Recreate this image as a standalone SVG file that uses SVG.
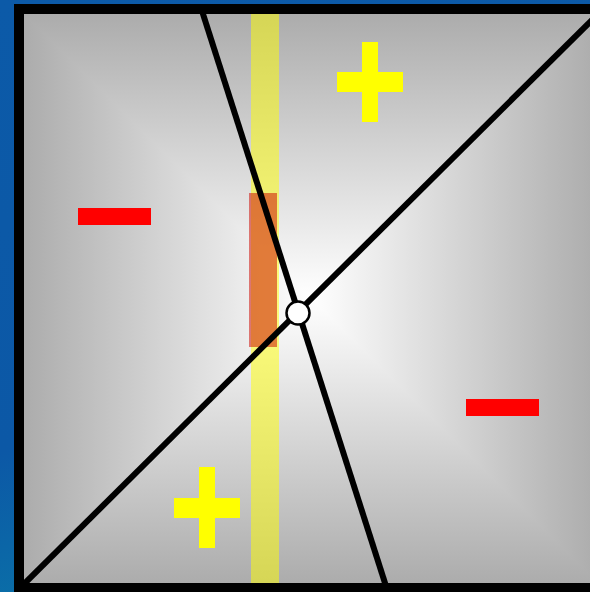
<svg xmlns="http://www.w3.org/2000/svg" width="590" height="592" viewBox="0 0 590 592">
  <defs>
    <linearGradient id="bg" x1="0" y1="0" x2="0.3" y2="1">
      <stop offset="0" stop-color="#0c5aa8"/>
      <stop offset="0.7" stop-color="#0c58a6"/>
      <stop offset="1" stop-color="#0a74a8"/>
    </linearGradient>
    <linearGradient id="gl" gradientUnits="userSpaceOnUse" x1="311" y1="0" x2="24" y2="0">
      <stop offset="0" stop-color="#ffffff"/>
      <stop offset="1" stop-color="#acacac"/>
    </linearGradient>
    <linearGradient id="gr" gradientUnits="userSpaceOnUse" x1="311" y1="0" x2="598" y2="0">
      <stop offset="0" stop-color="#ffffff"/>
      <stop offset="1" stop-color="#acacac"/>
    </linearGradient>
    <linearGradient id="gt" gradientUnits="userSpaceOnUse" x1="0" y1="298" x2="0" y2="14">
      <stop offset="0" stop-color="#ffffff"/>
      <stop offset="1" stop-color="#acacac"/>
    </linearGradient>
    <linearGradient id="gb" gradientUnits="userSpaceOnUse" x1="0" y1="298" x2="0" y2="583">
      <stop offset="0" stop-color="#ffffff"/>
      <stop offset="1" stop-color="#acacac"/>
    </linearGradient>
    <clipPath id="inner"><rect x="24" y="14" width="574" height="569"/></clipPath>
  </defs>
  <style>
    .line { stroke: #000; stroke-width: 6; fill: none; }
    .plus { fill: #ffff00; }
    .minus { fill: #ff0000; }
  </style>

  <rect x="0" y="0" width="590" height="592" fill="url(#bg)"/>

  <g id="field">
    <rect x="14" y="4" width="311" height="588" fill="url(#gl)"/>
    <rect x="311" y="4" width="300" height="588" fill="url(#gr)"/>
    <polygon points="24,14 598,14 311,298" fill="url(#gt)"/>
    <polygon points="24,583 598,583 311,298" fill="url(#gb)"/>
  </g>

  <g id="band">
    <rect x="251" y="14" width="28" height="569" fill="#ffff00" fill-opacity="0.5"/>
  </g>
  <g id="region">
    <rect x="249" y="193" width="28" height="154" fill="#cc0800" fill-opacity="0.52"/>
  </g>

  <g id="connectors" clip-path="url(#inner)">
    <line class="line" x1="19" y1="589" x2="604" y2="8"/>
    <line class="line" x1="201.4" y1="9" x2="386.6" y2="588"/>
  </g>

  <g id="center">
    <circle cx="298" cy="313" r="11.5" fill="#fff" stroke="#000" stroke-width="2.5"/>
  </g>

  <g id="plus-top">
    <rect class="plus" x="362" y="42" width="16" height="80"/>
    <rect class="plus" x="337" y="72" width="66" height="20"/>
  </g>
  <g id="plus-bottom">
    <rect class="plus" x="199" y="467" width="16" height="81"/>
    <rect class="plus" x="174" y="498" width="66" height="20"/>
  </g>
  <g id="minus-left">
    <rect class="minus" x="78" y="208" width="73" height="17"/>
  </g>
  <g id="minus-right">
    <rect class="minus" x="466" y="399" width="73" height="17"/>
  </g>

  <g id="frame">
    <rect x="19" y="9" width="586" height="579" fill="none" stroke="#000" stroke-width="10"/>
  </g>
</svg>
